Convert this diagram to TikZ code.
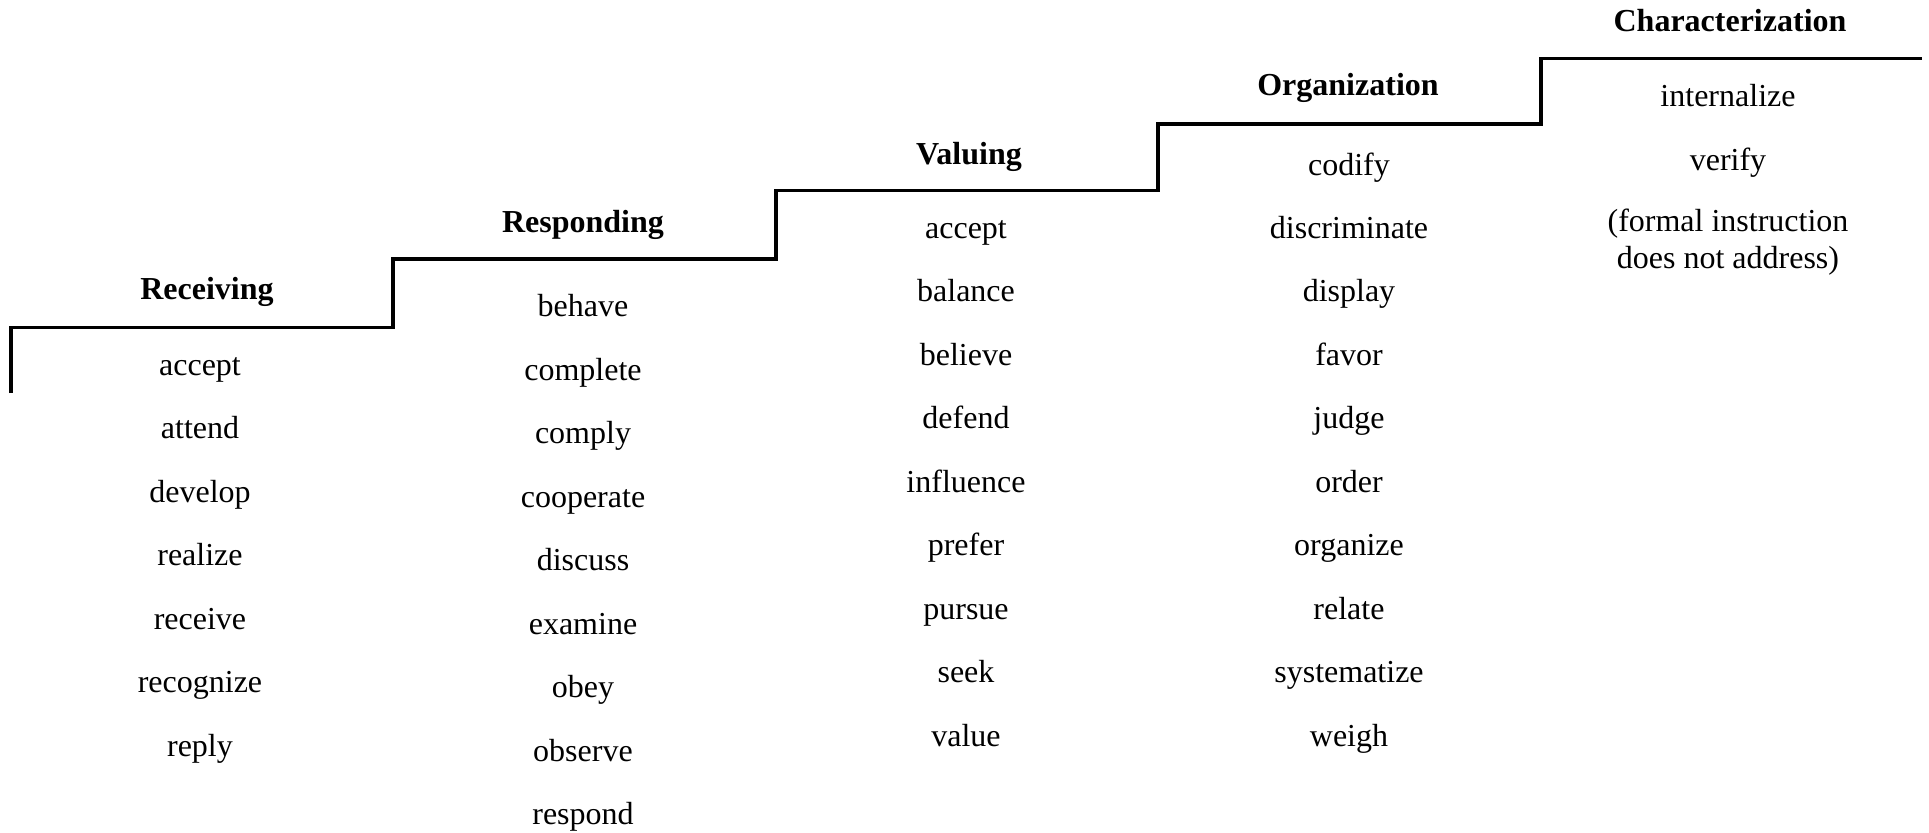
\documentclass[tikz,border=0pt]{standalone}
\usepackage{fontspec}
\setmainfont{Liberation Serif}
\begin{document}
\begin{tikzpicture}[x=0.5pt,y=-0.5pt,
  word/.style={anchor=base,inner sep=0pt,font=\fontsize{16}{18.4}\selectfont},
  head/.style={anchor=base,inner sep=0pt,font=\fontsize{16}{18.4}\selectfont\bfseries},
  stair/.style={line width=1.75pt,line join=miter}]
\useasboundingbox (0,0) rectangle (1929,832);
% staircase
\coordinate (s0) at (11,393);
\coordinate (s1) at (393,327.3);
\coordinate (s2) at (776,259);
\coordinate (s3) at (1158,190.7);
\coordinate (s4) at (1541,124);
\coordinate (s5) at (1922,58.3);
\draw[stair] (s0) |- (s1) |- (s2) |- (s3) |- (s4) |- (s5);
% headers
\node[head] (hRec) at (207,299.3) {Receiving};
\node[head] (hRes) at (583,232.7) {Responding};
\node[head] (hVal) at (969,164.3) {Valuing};
\node[head] (hOrg) at (1348,95) {Organization};
\node[head] (hCha) at (1730,31.7) {Characterization};
% columns
\foreach \w [count=\i from 0] in {accept,attend,develop,realize,receive,recognize,reply}
  \node[word] (rec\i) at (200,375+63.5*\i) {\w};
\foreach \w [count=\i from 0] in {behave,complete,comply,cooperate,discuss,examine,obey,observe,respond}
  \node[word] (res\i) at (583,316.7+63.5*\i) {\w};
\foreach \w [count=\i from 0] in {accept,balance,believe,defend,influence,prefer,pursue,seek,value}
  \node[word] (val\i) at (966,238.3+63.5*\i) {\w};
\foreach \w [count=\i from 0] in {codify,discriminate,display,favor,judge,order,organize,relate,systematize,weigh}
  \node[word] (org\i) at (1349,175+63.45*\i) {\w};
\node[word] (cha0) at (1728,106.7) {internalize};
\node[word] (cha1) at (1728,170) {verify};
\node[word,align=center] (cha2) at (1728,268.3) {(formal instruction\\does not address)};
\end{tikzpicture}
\end{document}
